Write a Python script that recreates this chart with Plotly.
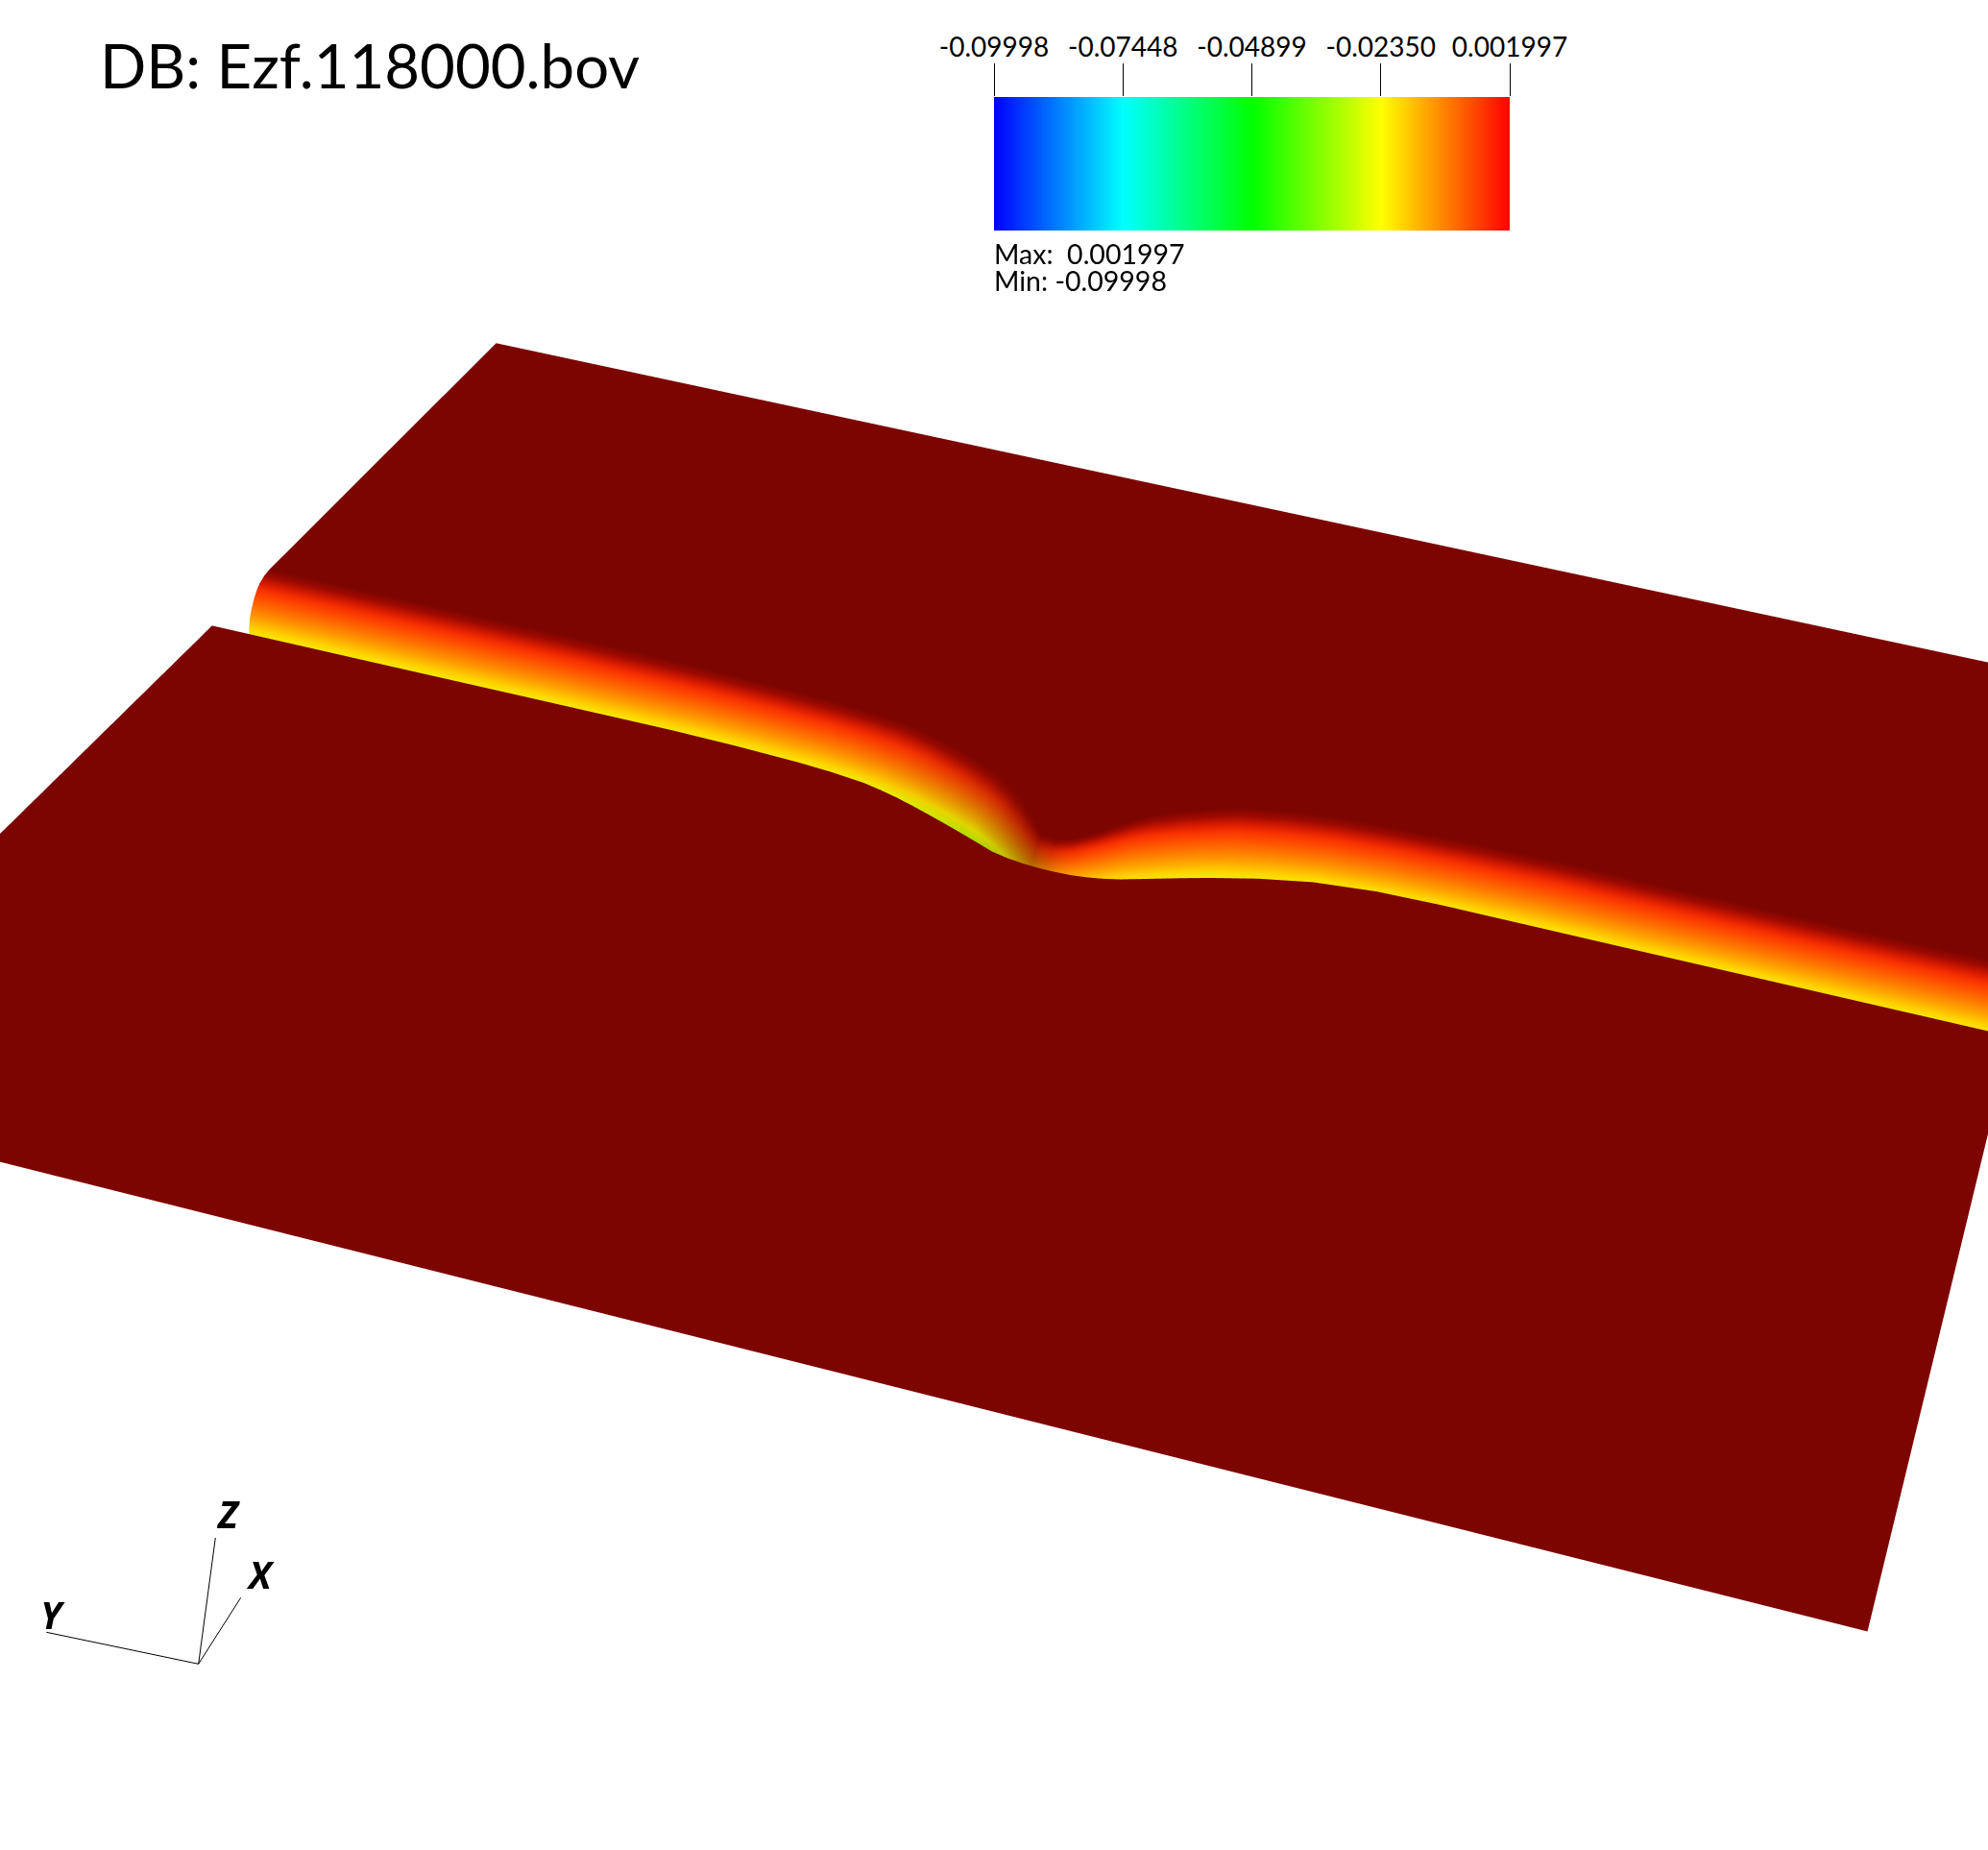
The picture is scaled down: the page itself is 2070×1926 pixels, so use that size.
import numpy as np
import plotly.graph_objects as go

# ---------- data ----------
title_text = "DB: Ezf.118000.bov"
legend_values = [-0.09998, -0.07448, -0.04899, -0.02350, 0.001997]
legend_labels = ["-0.09998", "-0.07448", "-0.04899", "-0.02350", "0.001997"]
legend_colors = [(0, 0, 255), (0, 255, 255), (0, 255, 0), (255, 255, 0), (255, 0, 0)]

# position of each station along the wave front
station_a = [-0.4667,-0.3778,-0.3057,-0.2343,-0.2017,-0.1700,-0.1534,-0.1367,-0.1278,-0.1188,-0.1098,-0.1009,-0.0918,-0.0827,-0.0737,-0.0646,-0.0565,-0.0483,-0.0407,-0.0331,-0.0258,-0.0185,-0.0115,-0.0045,0.0085,0.0205,0.0326,0.0529,0.0768,0.1054,0.1352,0.1801,0.2244,0.3046,0.3856]
# across-front position of the cliff at each station
cliff_y = [0.0713,0.0713,0.0714,0.0714,0.0707,0.0693,0.0680,0.0659,0.0639,0.0615,0.0587,0.0557,0.0525,0.0492,0.0458,0.0423,0.0405,0.0394,0.0389,0.0388,0.0391,0.0400,0.0414,0.0433,0.0479,0.0522,0.0563,0.0624,0.0678,0.0709,0.0716,0.0714,0.0712,0.0710,0.0707]
# width of the trough at each station
band_w = [0.0449,0.0450,0.0450,0.0440,0.0435,0.0433,0.0432,0.0430,0.0430,0.0430,0.0430,0.0428,0.0422,0.0410,0.0385,0.0345,0.0280,0.0200,0.0195,0.0225,0.0285,0.0350,0.0405,0.0440,0.0465,0.0475,0.0480,0.0460,0.0436,0.0420,0.0424,0.0435,0.0430,0.0428,0.0436]
# shading of the slope at each station (VisIt lighting)
station_shade = [1,1,1,1,1,1,0.98,0.96,0.94,0.91,0.87,0.83,0.78,0.73,0.65,0.55,0.47,0.44,0.72,0.95,1,1,1,1,1,1,1,1,1,1,1,1,1,1,1]
# field depth seen on the slope relative to the straight part of the front
station_depth = [1,1,1,1,1,1,1,1,1.02,1.05,1.08,1.12,1.16,1.2,1.2,1.2,1.15,1.1,1.0,1,1,1,1,1,1,1,1,1,1,1,1,1,1,1,1]

# trough profile, from the cliff (0) to the back edge (1)
profile_t = [0.0,0.05,0.15,0.25,0.35,0.46,0.50,0.55,0.60,0.68,0.75,0.81,0.90,1.0]
profile_value = [-0.0998,-0.098,-0.09,-0.075,-0.05,-0.0255,-0.019,-0.014,-0.0105,-0.0060,-0.003,-0.0012,0.0003,0.001]
profile_gain = [1,1,1,1,1,1,1,1,1,1,0.95,0.7,0.25,0]

flat_value = 0.001
flat_shade = 0.49
front_edge_y = -0.2312
back_edge_y = 0.3213
shear = 0.1973
left_trim = 0.0018
right_trim = 0.01

# ---------- build the sheet ----------
stops = [(v - legend_values[0]) / (legend_values[-1] - legend_values[0]) for v in legend_values]
colorscale = [[s, "rgb(%d,%d,%d)" % c] for s, c in zip(stops, legend_colors)]
chan = np.array(legend_colors, dtype=float)

def shade_color(value, shade):
    rgb = [np.interp(value, legend_values, chan[:, k]) * shade for k in range(3)]
    return "rgb(%d,%d,%d)" % tuple(int(round(c)) for c in rgb)

xs, ys, zs, cols = [], [], [], []
last = len(station_a) - 1
for c, (a, yc, w, sh, dp) in enumerate(zip(station_a, cliff_y, band_w, station_shade, station_depth)):
    rows = [(front_edge_y, flat_value, 0.0), (yc, flat_value, 0.0)]
    for t, v, g in zip(profile_t, profile_value, profile_gain):
        rows.append((yc + 1e-4 + t * w, v, g))
    rows.append((back_edge_y, flat_value, 0.0))
    for r, (y, v, g) in enumerate(rows):
        trim = 0.0
        if c == 0 and r != len(rows) - 1:
            trim = left_trim
        if c == last and r != 0:
            trim = right_trim
        xs.append(a + trim + shear * (y - front_edge_y))
        ys.append(y)
        zs.append(v)
        seen = v * dp if v < 0 else v
        cols.append(shade_color(seen, flat_shade + (1 - flat_shade) * g * sh))

n_rows = len(profile_t) + 3
ti, tj, tk = [], [], []
for c in range(len(station_a) - 1):
    for r in range(n_rows - 1):
        p = c * n_rows + r
        q = p + n_rows
        ti += [p, p + 1]
        tj += [q, q]
        tk += [p + 1, q + 1]

sheet = go.Mesh3d(x=xs, y=ys, z=zs, i=ti, j=tj, k=tk, vertexcolor=cols,
                  flatshading=False, hoverinfo="skip", showscale=False,
                  lighting=dict(ambient=1, diffuse=0, specular=0, fresnel=0, roughness=1))

legend_bar = go.Heatmap(x=legend_values, y=[0, 1], z=[legend_values, legend_values],
                        zmin=legend_values[0], zmax=legend_values[-1], colorscale=colorscale,
                        zsmooth="best", showscale=False, hoverinfo="skip",
                        xaxis="x", yaxis="y")

fig = go.Figure([legend_bar, sheet])

W, H = 2070, 1926
px = lambda v: v / W
py = lambda v: 1 - v / H
FONT = "Lato, sans-serif"

hidden = dict(visible=False, showgrid=False, zeroline=False, showbackground=False, showspikes=False)
fig.update_layout(
    width=W, height=H, margin=dict(l=0, r=0, t=0, b=0, autoexpand=False),
    paper_bgcolor="white", plot_bgcolor="white", showlegend=False,
    xaxis=dict(domain=[px(1035), px(1572)], range=[legend_values[0], legend_values[-1]], side="top",
               tickmode="array", tickvals=legend_values, ticktext=legend_labels, ticks="outside",
               ticklen=34, tickwidth=1, tickcolor="black", showgrid=False, zeroline=False, showline=False,
               ticklabelstandoff=-4,
               tickfont=dict(family=FONT, size=28, color="black"), anchor="y"),
    yaxis=dict(domain=[py(240), py(101)], range=[0, 1], visible=False),
    scene=dict(
        domain=dict(x=[0, 1], y=[0, 1]),
        bgcolor="rgba(0,0,0,0)",
        xaxis=dict(range=[-0.6, 0.6], **hidden),
        yaxis=dict(range=[-0.6, 0.6], **hidden),
        zaxis=dict(range=[-0.577, 0.577], **hidden),
        aspectmode="manual", aspectratio=dict(x=1.2, y=1.2, z=1.2),
        camera=dict(eye=dict(x=0.0844, y=-0.6238, z=0.7761), center=dict(x=0, y=0.0012, z=0),
                    up=dict(x=-0.2256, y=0.7466, z=0.6258)),
        dragmode="orbit",
    ),
)

def note(text, x, y, size, anchor="left", family=FONT):
    fig.add_annotation(text=text, x=px(x), y=py(y), xref="paper", yref="paper", showarrow=False,
                       xanchor=anchor, yanchor="middle", font=dict(family=family, size=size, color="black"))

note(title_text, 102, 68, 63.5)
note("Max:  0.001997", 1033, 264, 28.5)
note("Min: -0.09998", 1033, 292, 28.5)
for t, x, y in [("<b><i>Z</i></b>", 237, 1575), ("<b><i>X</i></b>", 271, 1638), ("<b><i>Y</i></b>", 55, 1680)]:
    note(t, x, y, 39, anchor="center", family="Open Sans, sans-serif")

triad_origin = (206.7, 1732.3)
triad_ends = [(48.3, 1699.3), (224.3, 1601), (250.7, 1663.3)]
for ex_, ey_ in triad_ends:
    fig.add_shape(type="line", xref="paper", yref="paper", x0=px(triad_origin[0]), y0=py(triad_origin[1]),
                  x1=px(ex_), y1=py(ey_), line=dict(color="black", width=1))

fig.write_html("out.html", config={"displayModeBar": False},
               post_script="document.body.style.margin='0';")
